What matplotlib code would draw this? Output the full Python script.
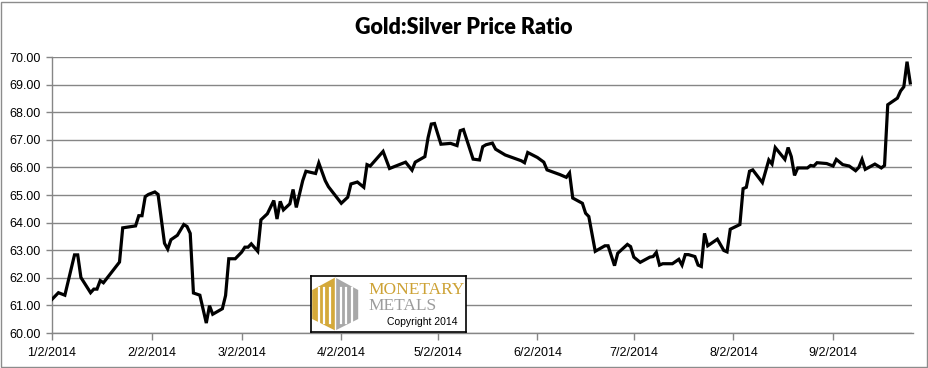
import numpy as np
import matplotlib
matplotlib.use("Agg")
import matplotlib.pyplot as plt
import matplotlib.dates as mdates
from matplotlib.patches import Rectangle, Polygon

# ---------------- data ----------------
start_date = "2014-01-02"
day_offsets = [0, 2, 4, 7, 8, 9, 12, 13, 14, 15, 16, 21, 22, 26, 27, 28, 29, 30, 32, 33,
               35, 36, 37, 39, 41, 42, 43, 44, 46, 48, 49, 50, 53, 54, 55, 57, 59, 60, 61,
               62, 64, 65, 67, 69, 70, 71, 72, 74, 75, 76, 78, 79, 82, 83, 85, 86, 90, 92,
               93, 95, 97, 98, 99, 103, 105, 110, 112, 113, 116, 117, 118, 119, 121, 124,
               126, 127, 128, 131, 133, 134, 135, 137, 138, 141, 146, 147, 148, 151, 153,
               154, 158, 160, 161, 162, 165, 166, 167, 169, 172, 173, 175, 176, 179, 180,
               181, 183, 186, 187, 188, 189, 190, 193, 195, 196, 197, 198, 200, 201, 202,
               203, 204, 207, 209, 210, 211, 214, 215, 216, 217, 218, 221, 223, 224, 225,
               228, 229, 230, 231, 232, 235, 236, 237, 238, 241, 243, 244, 246, 248, 250,
               251, 252, 253, 256, 258, 259, 260, 263, 264, 265, 266, 267]
ratio = [61.22, 61.46, 61.37, 62.83, 62.83, 62.01, 61.46, 61.59, 61.59, 61.90, 61.82,
         62.57, 63.81, 63.88, 64.25, 64.25, 64.94, 65.02, 65.11, 65.02,
         63.25, 63.04, 63.38, 63.54, 63.93, 63.86, 63.61, 61.45, 61.37, 60.36, 60.99,
         60.68, 60.88, 61.36, 62.69, 62.69, 62.93, 63.11, 63.11,
         63.23, 62.96, 64.10, 64.32, 64.80, 64.13, 64.77, 64.46, 64.68, 65.20, 64.55,
         65.52, 65.86, 65.78, 66.16, 65.52, 65.30, 64.70, 64.92,
         65.40, 65.47, 65.28, 66.10, 66.05, 66.58, 65.96, 66.19, 65.90, 66.19, 66.39,
         67.08, 67.57, 67.59, 66.84, 66.87,
         66.79, 67.33, 67.37, 66.30, 66.27, 66.75, 66.82, 66.88, 66.66, 66.45, 66.24,
         66.17, 66.54, 66.36, 66.19,
         65.91, 65.74, 65.64, 65.80, 64.89, 64.70, 64.34, 64.22, 62.96, 63.16, 63.16,
         62.44, 62.89, 63.21, 63.13,
         62.75, 62.56, 62.75, 62.77, 62.92, 62.46, 62.51, 62.51, 62.67, 62.46, 62.84,
         62.84, 62.77, 62.46, 62.41,
         63.61, 63.16, 63.40, 62.99, 62.94, 63.76, 63.93, 65.23, 65.28, 65.86, 65.91,
         65.45, 66.27, 66.12, 66.72,
         66.29, 66.72, 66.39, 65.71, 65.98, 65.98, 66.07, 66.05, 66.17, 66.14, 66.05,
         66.29, 66.10, 66.05, 65.88,
         66.00, 66.29, 65.93, 66.12, 65.98, 66.07, 68.27, 68.51, 68.77, 68.92, 69.83, 69.06]

tick_dates = ["2014-01-02", "2014-02-02", "2014-03-02", "2014-04-02", "2014-05-02",
              "2014-06-02", "2014-07-02", "2014-08-02", "2014-09-02"]
tick_labels = ["1/2/2014", "2/2/2014", "3/2/2014", "4/2/2014", "5/2/2014",
               "6/2/2014", "7/2/2014", "8/2/2014", "9/2/2014"]
y_ticks = [60, 61, 62, 63, 64, 65, 66, 67, 68, 69, 70]

title = "Gold:Silver Price Ratio"

# ---------------- plot ----------------
dates = np.datetime64(start_date) + np.array(day_offsets).astype("timedelta64[D]")

W, H = 929, 368
fig = plt.figure(figsize=(W / 100, H / 100), dpi=100)
fig.patch.set_facecolor("white")

ax_l, ax_r, ax_t, ax_b = 52, 912.5, 57, 333
ax = fig.add_axes([ax_l / W, 1 - ax_b / H, (ax_r - ax_l) / W, (ax_b - ax_t) / H])

grid_c = "#868686"
ax.plot(dates, ratio, color="black", lw=2.3, solid_joinstyle="miter", zorder=3)

ax.set_ylim(60, 70)
ax.set_yticks(y_ticks)
ax.yaxis.set_major_formatter(matplotlib.ticker.FormatStrFormatter("%.2f"))
ax.set_xlim(mdates.date2num(np.datetime64(start_date)),
            mdates.date2num(np.datetime64(start_date)) + 267.7)
ax.set_xticks(mdates.date2num(np.array(tick_dates, dtype="datetime64[D]")))
ax.set_xticklabels(tick_labels)

for s in ["top", "right"]:
    ax.spines[s].set_visible(False)
for s in ["left", "bottom"]:
    ax.spines[s].set_color(grid_c)
    ax.spines[s].set_linewidth(1)

ax.grid(axis="y", color=grid_c, lw=1, zorder=0)
ax.set_axisbelow(True)
ax.tick_params(axis="both", colors=grid_c, length=4, width=1, direction="out",
               labelcolor="black", labelsize=9)
ax.tick_params(axis="x", length=5, pad=5)
ax.tick_params(axis="y", pad=4)
for lab in ax.get_xticklabels() + ax.get_yticklabels():
    lab.set_fontfamily("Liberation Sans")

fig.text(464 / W, 1 - 27 / H, title, ha="center", va="center",
         fontsize=15.5, fontweight="heavy", family="Lato")

# outer chart border
fig.patches.append(Rectangle((1 / W, 1 / H), (W - 3) / W, (H - 3) / H,
                             transform=fig.transFigure, fill=False,
                             edgecolor="#8c8c8c", lw=1))

# ---------------- logo box ----------------
bx0, by0, bx1, by1 = 310.7, 276, 466, 332
lax = fig.add_axes([bx0 / W, 1 - by1 / H, (bx1 - bx0) / W, (by1 - by0) / H])
lax.set_xlim(0, bx1 - bx0)
lax.set_ylim(by1 - by0, 0)
lax.set_xticks([])
lax.set_yticks([])
for s in lax.spines.values():
    s.set_color("black")
    s.set_linewidth(1.2)
lax.set_facecolor("white")

gold = "#D4A93A"
grey = "#A8A8A8"
cx = 24.5
left_half = [(1.5, 14), (cx, 1.5), (cx, 54.5), (1.5, 43)]
right_half = [(cx, 1.5), (47.5, 14), (47.5, 43), (cx, 54.5)]
lax.add_patch(Polygon(left_half, closed=True, facecolor=gold, edgecolor="none"))
lax.add_patch(Polygon(right_half, closed=True, facecolor=grey, edgecolor="none"))
for xs in [8, 13.5, 19, 30, 35.5, 41]:
    lax.plot([xs, xs], [12, 47], color="white", lw=1.6)
lax.plot([cx, cx], [1.5, 54.5], color="white", lw=1.0)

lax.text(58, 14.5, "MONETARY", color="#CDA235", fontsize=12.5,
         family="Liberation Serif", va="center", ha="left")
lax.text(58, 30, "METALS", color="#9C9C9C", fontsize=12.5,
         family="Liberation Serif", va="center", ha="left")
lax.text(76, 46, "Copyright 2014", color="black", fontsize=7.5,
         family="Liberation Sans", va="center", ha="left")

fig.savefig("out.png", dpi=100)
